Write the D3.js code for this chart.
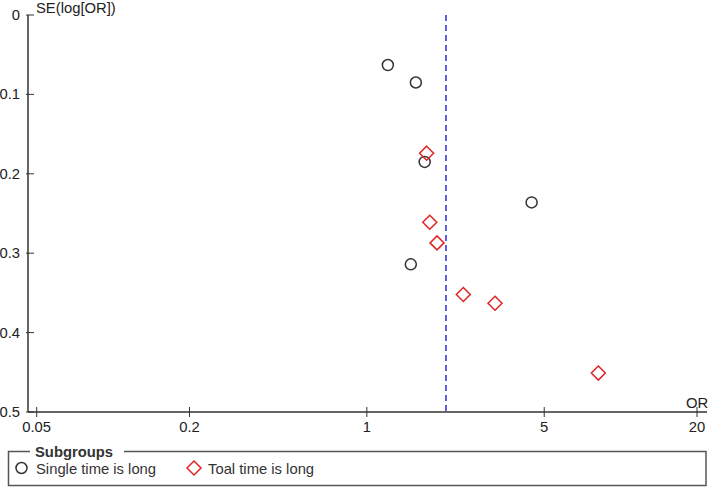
<!DOCTYPE html>
<html>
<head>
<meta charset="utf-8">
<script src="https://d3js.org/d3.v7.min.js"></script>
<style>
  body { margin: 0; background: #fff; }
  svg text { font-family: "Liberation Sans", Arial, sans-serif; }
</style>
</head>
<body>
<div id="chart"></div>
<script>
// Funnel plot data
const singleOR = [1.21, 1.56, 1.69, 4.46, 1.49];
const singleSE = [0.063, 0.085, 0.185, 0.236, 0.314];
const totalOR = [1.72, 1.77, 1.89, 2.40, 3.20, 8.17];
const totalSE = [0.174, 0.261, 0.287, 0.352, 0.363, 0.451];
const pooledOR = 2.05;
const xTicks = [0.05, 0.2, 1, 5, 20];
const yTicks = [0, 0.1, 0.2, 0.3, 0.4, 0.5];
const legendLabels = ['Single time is long', 'Toal time is long'];

const width = 708, height = 487;
const axisColor = '#333';
const fontSize = '14.8px';

const svg = d3.select('#chart')
    .append('svg')
    .attr('width', width)
    .attr('height', height);

// Scales
const x = d3.scaleLog().domain([0.05, 20]).range([36.7, 697]);
const y = d3.scaleLinear().domain([0, 0.5]).range([15, 412]);
const xAxisLeft = 28;

// Y axis
svg.append('line')
    .attr('x1', xAxisLeft).attr('x2', xAxisLeft)
    .attr('y1', y(0)).attr('y2', y(0.5))
    .attr('stroke', axisColor).attr('stroke-width', 1.5);

yTicks.forEach(t => {
    svg.append('line')
        .attr('x1', xAxisLeft - 2).attr('x2', xAxisLeft + 6)
        .attr('y1', y(t)).attr('y2', y(t))
        .attr('stroke', axisColor).attr('stroke-width', 1);
    svg.append('text')
        .attr('x', 20).attr('y', y(t) + 5)
        .attr('text-anchor', 'end')
        .style('font-size', fontSize)
        .style('fill', '#222')
        .text(t === 0 ? '0' : t);
});

svg.append('text')
    .attr('x', 36).attr('y', 13)
    .style('font-size', fontSize)
    .style('fill', '#222')
    .text('SE(log[OR])');

// X axis
svg.append('line')
    .attr('x1', xAxisLeft).attr('x2', 707)
    .attr('y1', y(0.5)).attr('y2', y(0.5))
    .attr('stroke', axisColor).attr('stroke-width', 1.5);

xTicks.forEach(t => {
    svg.append('line')
        .attr('x1', x(t)).attr('x2', x(t))
        .attr('y1', y(0.5) - 5).attr('y2', y(0.5) + 5)
        .attr('stroke', axisColor).attr('stroke-width', 1);
    svg.append('text')
        .attr('x', x(t)).attr('y', y(0.5) + 20)
        .attr('text-anchor', 'middle')
        .style('font-size', fontSize)
        .style('fill', '#222')
        .text(t);
});

svg.append('text')
    .attr('x', 697).attr('y', y(0.5) - 4)
    .attr('text-anchor', 'middle')
    .style('font-size', fontSize)
    .style('fill', '#222')
    .text('OR');

// Pooled estimate line
svg.append('line')
    .attr('x1', x(pooledOR)).attr('x2', x(pooledOR))
    .attr('y1', y(0)).attr('y2', y(0.5))
    .attr('stroke', '#2a2ae0').attr('stroke-width', 1.5)
    .attr('stroke-dasharray', '6,4');

// Circles: single time is long
svg.selectAll('.single')
    .data(singleOR.map((d, i) => ({or: d, se: singleSE[i]})))
    .join('circle')
    .attr('class', 'single')
    .attr('cx', d => x(d.or))
    .attr('cy', d => y(d.se))
    .attr('r', 5.5)
    .attr('fill', 'none')
    .attr('stroke', '#333')
    .attr('stroke-width', 1.5);

// Diamonds: total time is long
const diamond = (cx, cy, s) => `M${cx},${cy - s}L${cx + s},${cy}L${cx},${cy + s}L${cx - s},${cy}Z`;
svg.selectAll('.total')
    .data(totalOR.map((d, i) => ({or: d, se: totalSE[i]})))
    .join('path')
    .attr('class', 'total')
    .attr('d', d => diamond(x(d.or), y(d.se), 7))
    .attr('fill', 'none')
    .attr('stroke', '#e02424')
    .attr('stroke-width', 1.5);

// Legend
svg.append('rect')
    .attr('x', 8.5).attr('y', 451.5)
    .attr('width', 697.5).attr('height', 34)
    .attr('fill', 'none')
    .attr('stroke', '#555').attr('stroke-width', 1.5);

svg.append('rect')
    .attr('x', 30).attr('y', 444)
    .attr('width', 94).attr('height', 14)
    .attr('fill', '#fff');

svg.append('text')
    .attr('x', 35).attr('y', 457)
    .style('font-size', fontSize)
    .style('font-weight', 'bold')
    .style('fill', '#333')
    .text('Subgroups');

svg.append('circle')
    .attr('cx', 21.5).attr('cy', 468)
    .attr('r', 5.5)
    .attr('fill', 'none')
    .attr('stroke', '#333').attr('stroke-width', 1.5);

svg.append('text')
    .attr('x', 36).attr('y', 474)
    .style('font-size', fontSize)
    .style('fill', '#333')
    .text(legendLabels[0]);

svg.append('path')
    .attr('d', diamond(194, 468, 7))
    .attr('fill', 'none')
    .attr('stroke', '#e02424').attr('stroke-width', 1.5);

svg.append('text')
    .attr('x', 208).attr('y', 474)
    .style('font-size', fontSize)
    .style('fill', '#333')
    .text(legendLabels[1]);
</script>
</body>
</html>
